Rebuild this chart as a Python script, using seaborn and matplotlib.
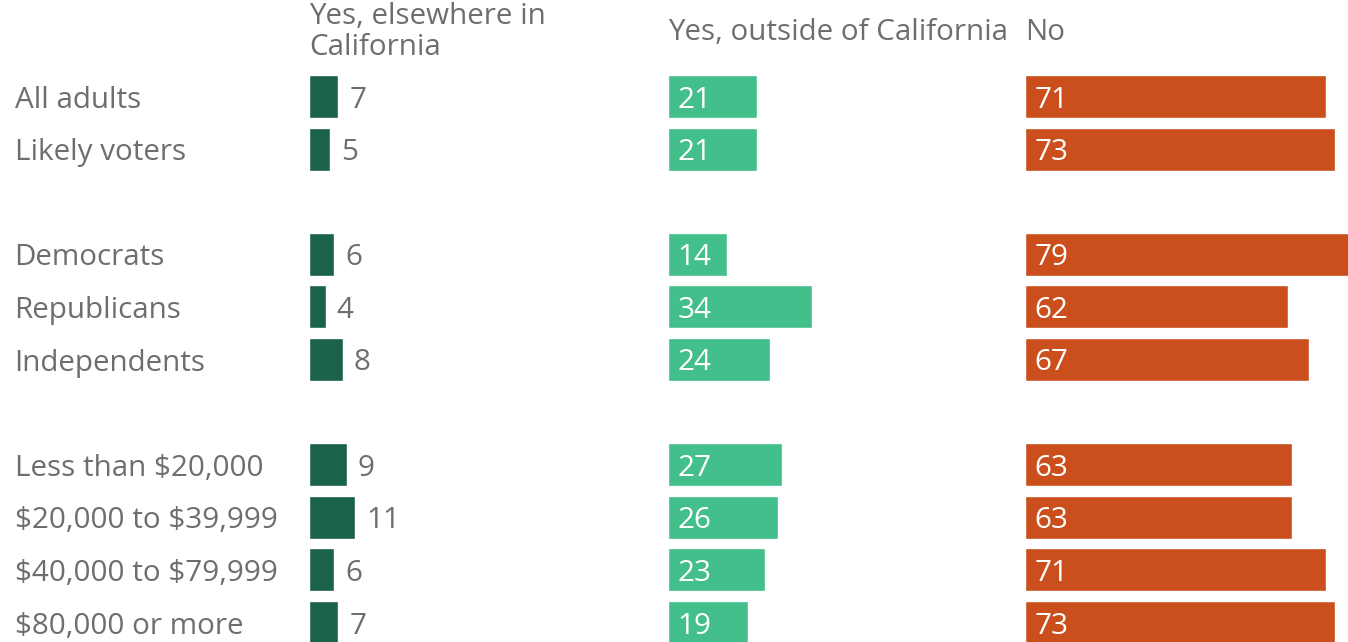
import matplotlib
matplotlib.use("Agg")
import matplotlib.pyplot as plt
import seaborn as sns
import pandas as pd

categories = ["All adults", "Likely voters",
              "Democrats", "Republicans", "Independents",
              "Less than $20,000", "$20,000 to $39,999", "$40,000 to $79,999", "$80,000 or more"]
group_sizes = [2, 3, 4]
elsewhere = [7, 5, 6, 4, 8, 9, 11, 6, 7]
outside = [21, 21, 14, 34, 24, 27, 26, 23, 19]
no = [71, 73, 79, 62, 67, 63, 63, 71, 73]
headers = ["Yes, elsewhere in\nCalifornia", "Yes, outside of California", "No"]

colors = ["#1b6348", "#43bf8b", "#cb4f1c"]
text_gray = "#6d6e72"

sns.set_theme(style="white")
plt.rcParams["font.family"] = ["Open Sans", "DejaVu Sans"]
plt.rcParams["text.parse_math"] = False
FS = 21.3

# order with spacer rows between groups
order = []
idx = 0
for g, n in enumerate(group_sizes):
    if g > 0:
        order.append(" " * g)
    order.extend(categories[idx:idx + n])
    idx += n

df = pd.DataFrame({"label": categories, "elsewhere": elsewhere,
                   "outside": outside, "no": no})

W, H = 1348, 642
fig = plt.figure(figsize=(W / 100, H / 100), dpi=100)

scale = 4.25  # px per percentage point
pitch = 52.6
first_center = 96.5
ytop = (0 - first_center) / pitch
ybot = (H - first_center) / pitch

panels = [(309, 668, "elsewhere"), (668, 1025, "outside"), (1025, 1348, "no")]
for k, (l, r, col) in enumerate(panels):
    ax = fig.add_axes([(l - 0.5) / W, 0, (r - l) / W, 1])
    sns.barplot(data=df, x=col, y="label", order=order, color=colors[k],
                saturation=1, width=43 / pitch, errorbar=None, orient="h", ax=ax)
    ax.set_xlim(0, (r - l) / scale)
    ax.set_ylim(ybot, ytop)
    ax.set_xlabel("")
    ax.set_ylabel("")
    ax.set_xticks([])
    for s in ax.spines.values():
        s.set_visible(False)
    pos = {lab: i for i, lab in enumerate(order)}
    for lab, v in zip(df["label"], df[col]):
        if k == 0:
            ax.annotate(str(v), xy=(v, pos[lab]), xytext=(8.0, 0),
                        textcoords="offset points", ha="left", va="center_baseline",
                        fontsize=FS, color=text_gray)
        else:
            ax.annotate(str(v), xy=(0, pos[lab]), xytext=(7.0, 0),
                        textcoords="offset points", ha="left", va="center_baseline",
                        fontsize=FS, color="white")
    if k == 0:
        ax.set_yticks(range(len(order)))
        ax.set_yticklabels(order, fontsize=FS, color=text_gray, ha="left",
                           va="center_baseline")
        ax.tick_params(axis="y", length=0, pad=(l - 15) * 0.72)
    else:
        ax.set_yticks([])
    fig.text(l / W, 1 - 32 / H, headers[k], ha="left", va="center",
             fontsize=FS, color=text_gray, linespacing=1.1)

fig.savefig("out.png", dpi=100)
